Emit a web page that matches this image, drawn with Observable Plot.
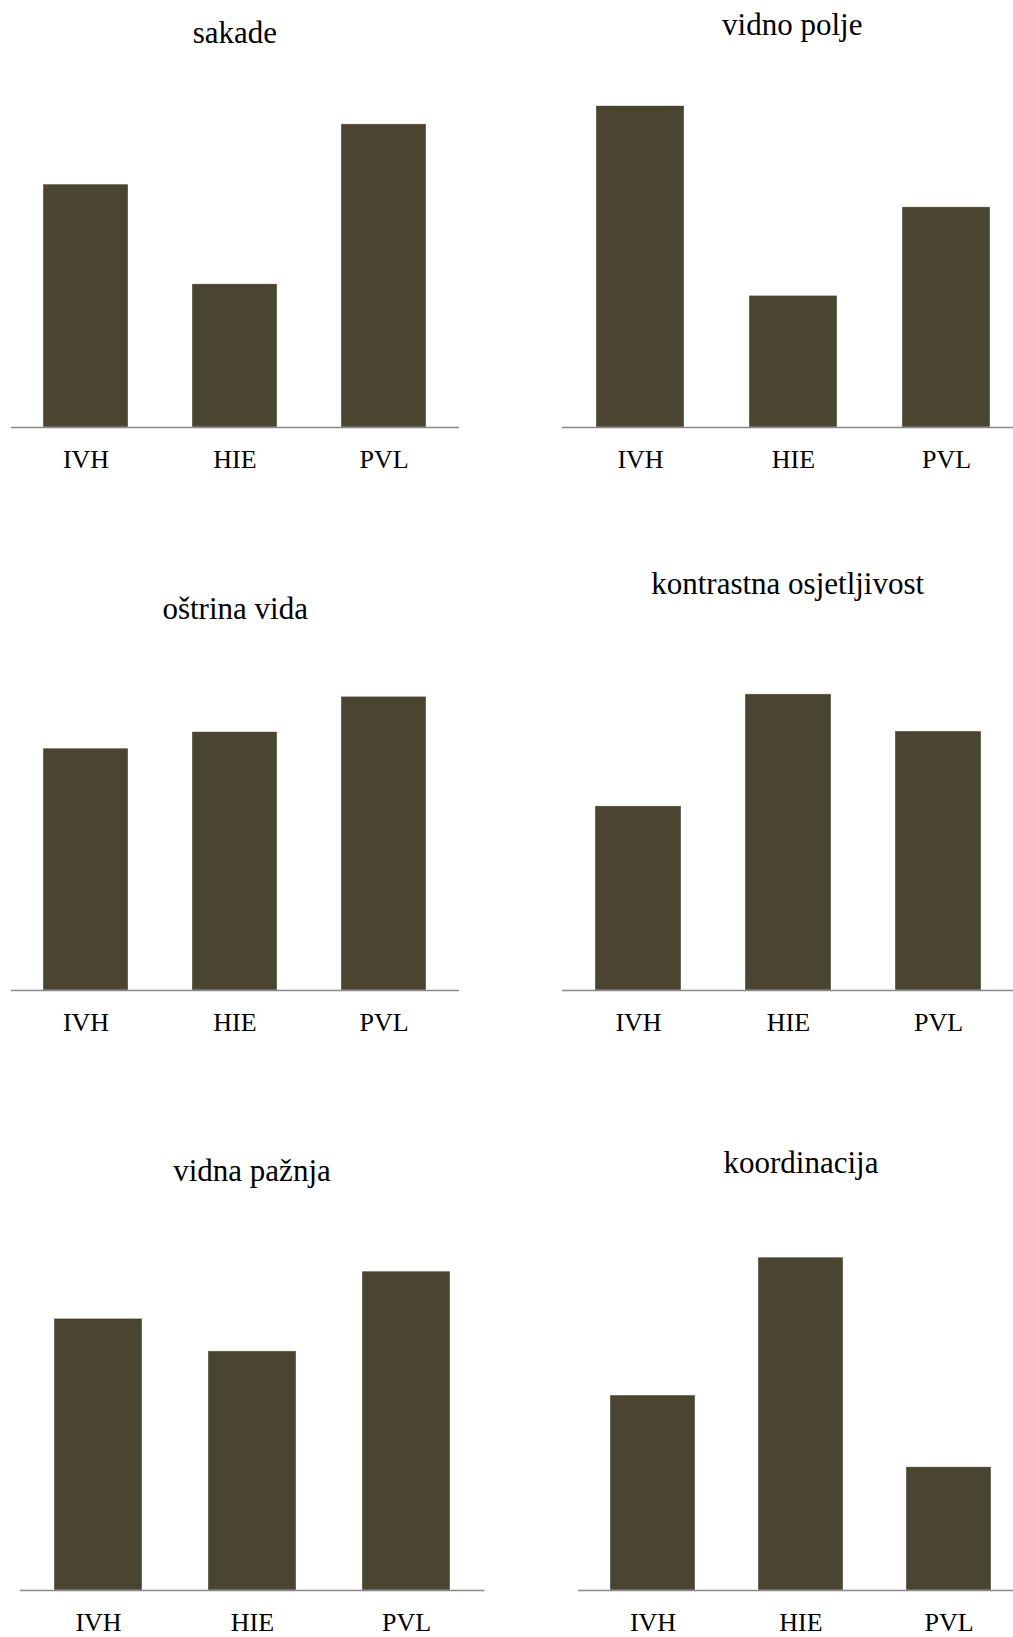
<!DOCTYPE html>
<html>
<head>
<meta charset="utf-8">
<script src="https://cdn.jsdelivr.net/npm/d3@7"></script>
<script src="https://cdn.jsdelivr.net/npm/@observablehq/plot@0.6"></script>
<style>
  html, body { margin: 0; padding: 0; background: #fff; overflow: hidden; }
  #root { position: relative; width: 1013px; height: 1637px; overflow: hidden; background: #fff; }
  .title { position: absolute; font-family: "Liberation Serif", "Times New Roman", serif; font-size: 31px; line-height: 31px; white-space: nowrap; color: #000; transform: translateX(-50%); }
  .panel { position: absolute; }
</style>
</head>
<body>
<div id="root"></div>
<script>
// ---- data ----
const categories = ["IVH", "HIE", "PVL"];
const panelTitles = ["sakade", "vidno polje", "oštrina vida", "kontrastna osjetljivost", "vidna pažnja", "koordinacija"];
const sakade = [69.4, 40.9, 86.6];
const vidnoPolje = [91.8, 37.6, 62.9];
const ostrinaVida = [69.1, 73.8, 83.9];
const kontrastnaOsjetljivost = [52.6, 84.6, 74.0];
const vidnaPaznja = [77.6, 68.3, 91.1];
const koordinacija = [55.7, 95.1, 35.2];
const seriesValues = [sakade, vidnoPolje, ostrinaVida, kontrastnaOsjetljivost, vidnaPaznja, koordinacija];

// ---- layout (pixels) ----
const layout = [
  {x0: 11,    x1: 459,    base: 427.3, tx: 234.8, ty: 42.7},
  {x0: 562,   x1: 1023.5, base: 427.3, tx: 792.3, ty: 35},
  {x0: 11,    x1: 459,    base: 990,   tx: 235.2, ty: 619},
  {x0: 562,   x1: 1013,   base: 990,   tx: 787.7, ty: 594.3},
  {x0: 19.6,  x1: 484,    base: 1590,  tx: 252,   ty: 1181},
  {x0: 578,   x1: 1023,   base: 1590,  tx: 801,   ty: 1172.7}
];

const root = document.getElementById("root");
const areaH = 350, mTop = 10, mBottom = 60;

seriesValues.forEach((vals, i) => {
  const L = layout[i];
  const data = categories.map((c, j) => ({cat: c, value: vals[j]}));
  const w = L.x1 - L.x0;
  const chart = Plot.plot({
    width: w,
    height: areaH + mTop + mBottom,
    marginLeft: 0, marginRight: 0, marginTop: mTop, marginBottom: mBottom,
    style: {
      background: "transparent",
      maxWidth: "none",
      overflow: "visible",
      color: "#000",
      fontFamily: '"Liberation Serif", "Times New Roman", serif',
      fontSize: "26px"
    },
    x: {domain: categories, paddingInner: 0.428, paddingOuter: 0.214, label: null},
    y: {domain: [0, 100], axis: null},
    marks: [
      Plot.barY(data, {x: "cat", y: "value", fill: "#4a4530", stroke: "#ffffff", strokeWidth: 0.6, strokeOpacity: 0.6}),
      Plot.ruleY([0], {stroke: "#888888", strokeWidth: 1.5}),
      Plot.axisX({tickSize: 0, tickPadding: 22, fontSize: 26, label: null})
    ]
  });
  const div = document.createElement("div");
  div.className = "panel";
  div.style.left = L.x0 + "px";
  div.style.top = (L.base - areaH - mTop) + "px";
  div.style.width = w + "px";
  div.appendChild(chart);
  root.appendChild(div);

  const t = document.createElement("div");
  t.className = "title";
  t.textContent = panelTitles[i];
  t.style.left = L.tx + "px";
  t.style.top = (L.ty - 26) + "px";
  root.appendChild(t);
});
</script>
</body>
</html>
